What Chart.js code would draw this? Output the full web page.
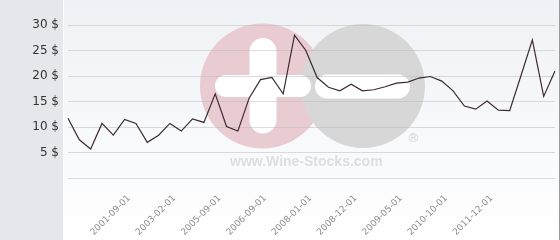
<!DOCTYPE html>
<html>
<head>
<meta charset="utf-8">
<script src="https://cdn.jsdelivr.net/npm/chart.js@4"></script>
<style>
  body { margin: 0; background: #fff; }
  #priceChart { display: block; }
</style>
</head>
<body>
<canvas id="priceChart" width="560" height="240"></canvas>
<script>
// prices, one per period
var values = [
  11.7, 7.5, 5.7, 10.7, 8.4, 11.5, 10.7, 7.0, 8.4, 10.7, 9.2,
  11.6, 10.9, 16.5, 10.1, 9.2, 15.7, 19.3, 19.7, 16.5, 28.0, 25.0,
  19.7, 17.8, 17.1, 18.4, 17.1, 17.3, 17.9, 18.6, 18.8, 19.6, 19.9,
  19.0, 17.1, 14.1, 13.5, 15.1, 13.3, 13.2, 20.1, 27.1, 16.0, 21.0
];
var tickLabels = [
  '2001-09-01', '2003-02-01', '2005-09-01', '2006-09-01', '2008-01-01',
  '2008-12-01', '2009-05-01', '2010-10-01', '2011-12-01'
];
var yTicks = [0, 5, 10, 15, 20, 25, 30];
var firstTick = 5;
var tickStep = 4;

var categories = values.map(function(v, i) {
  var k = (i - firstTick) / tickStep;
  return (Number.isInteger(k) && k >= 0 && k < tickLabels.length) ? tickLabels[k] : '';
});

function roundBar(ctx, x, y, w, h) {
  ctx.beginPath();
  ctx.roundRect(x, y, w, h, Math.min(w, h) / 2);
  ctx.fill();
}

var backdrop = {
  id: 'backdrop',
  beforeDraw: function(chart) {
    var ctx = chart.ctx;
    ctx.save();
    ctx.fillStyle = '#e4e8ec';
    ctx.fillRect(0, 0, 63, 240);
    ctx.fillStyle = '#ffffff';
    ctx.fillRect(63, 0, 1, 240);
    var g = ctx.createLinearGradient(0, 0, 0, 240);
    g.addColorStop(0, '#eff1f6');
    g.addColorStop(1, '#ffffff');
    ctx.fillStyle = g;
    ctx.fillRect(64, 0, 495, 240);
    ctx.fillStyle = '#9a9a9a';
    ctx.fillRect(559, 0, 1, 240);

    // watermark
    ctx.fillStyle = '#e9cbd2';
    ctx.beginPath();
    ctx.arc(262.5, 86, 62.5, 0, Math.PI * 2);
    ctx.fill();
    ctx.fillStyle = '#d7d7d8';
    ctx.beginPath();
    ctx.arc(363, 86, 62, 0, Math.PI * 2);
    ctx.fill();
    ctx.fillStyle = '#ffffff';
    roundBar(ctx, 249.5, 38, 27, 95.5);
    roundBar(ctx, 215, 75, 96, 22);
    roundBar(ctx, 315, 74.5, 95, 24);
    ctx.fillStyle = '#d4d4d4';
    ctx.font = '13px "DejaVu Sans"';
    ctx.textAlign = 'center';
    ctx.textBaseline = 'middle';
    ctx.fillText('\u00ae', 413.5, 139);
    ctx.fillStyle = '#dedede';
    ctx.font = 'bold 14px "Liberation Sans"';
    ctx.textAlign = 'left';
    ctx.textBaseline = 'alphabetic';
    ctx.fillText('www.Wine-Stocks.com', 230, 166, 164);
    ctx.restore();
  }
};

document.addEventListener("DOMContentLoaded", function() {
  var canvas = document.getElementById('priceChart');

  new Chart(canvas.getContext('2d'), {
    type: 'line',
    data: {
      labels: categories,
      datasets: [{
        data: values,
        borderColor: '#3b2a31',
        borderWidth: 1.2,
        pointRadius: 0,
        tension: 0,
        fill: false
      }]
    },
    options: {
      responsive: false,
      animation: false,
      devicePixelRatio: 1,
      layout: { padding: { top: 25, right: 5, left: 0, bottom: 0 } },
      plugins: {
        legend: { display: false },
        tooltip: { enabled: false }
      },
      scales: {
        x: {
          grid: { display: false, drawTicks: false },
          border: { display: false },
          afterFit: function(scale) {
            scale.height = 62;
            scale.paddingLeft = 0;
            scale.paddingRight = 0;
          },
          ticks: {
            autoSkip: false,
            maxRotation: 45,
            minRotation: 45,
            padding: 15,
            labelOffset: 4.5,
            color: '#8c8c8c',
            font: { family: 'DejaVu Sans', size: 9 }
          }
        },
        y: {
          min: 0,
          max: 30,
          afterFit: function(scale) { scale.width = 68; },
          afterBuildTicks: function(scale) {
            scale.ticks = yTicks.map(function(v) { return { value: v }; });
          },
          grid: { color: 'rgba(185,185,185,0.5)', drawTicks: false },
          border: { display: false },
          ticks: {
            padding: 9,
            color: '#333333',
            font: { family: 'DejaVu Sans', size: 12 },
            callback: function(v) { return v === 0 ? '' : v + ' $'; }
          }
        }
      }
    },
    plugins: [backdrop]
  });
});
</script>
</body>
</html>
